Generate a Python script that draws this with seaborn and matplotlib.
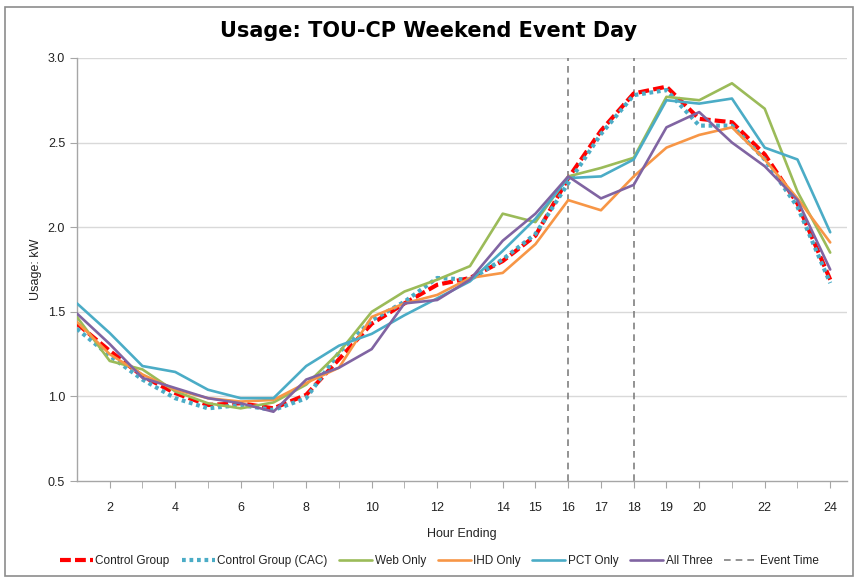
import numpy as np
import matplotlib
matplotlib.use("Agg")
import matplotlib.pyplot as plt
import seaborn as sns
from matplotlib.patches import Rectangle
from matplotlib.lines import Line2D

# hour ending 1..24
hours = list(range(1, 25))

control = [1.43, 1.27, 1.12, 1.02, 0.95, 0.96, 0.93, 1.01, 1.22, 1.43, 1.55, 1.66,
           1.70, 1.80, 1.95, 2.29, 2.57, 2.79, 2.83, 2.64, 2.62, 2.43, 2.14, 1.69]
control_cac = [1.40, 1.24, 1.10, 0.99, 0.93, 0.95, 0.92, 0.99, 1.26, 1.45, 1.56, 1.70,
               1.69, 1.81, 1.96, 2.26, 2.55, 2.78, 2.81, 2.60, 2.60, 2.40, 2.12, 1.67]
web_only = [1.47, 1.21, 1.16, 1.03, 0.96, 0.93, 0.965, 1.07, 1.26, 1.50, 1.62, 1.69,
            1.77, 2.08, 2.03, 2.30, 2.35, 2.41, 2.77, 2.75, 2.85, 2.70, 2.21, 1.85]
ihd_only = [1.44, 1.25, 1.13, 1.04, 0.99, 0.97, 0.98, 1.08, 1.17, 1.47, 1.55, 1.60,
            1.70, 1.73, 1.90, 2.16, 2.10, 2.30, 2.47, 2.545, 2.59, 2.40, 2.17, 1.91]
pct_only = [1.55, 1.375, 1.18, 1.145, 1.04, 0.99, 0.99, 1.18, 1.30, 1.37, 1.48, 1.58,
            1.68, 1.86, 2.05, 2.29, 2.30, 2.40, 2.75, 2.73, 2.76, 2.47, 2.40, 1.97]
all_three = [1.49, 1.31, 1.11, 1.05, 0.99, 0.96, 0.91, 1.10, 1.17, 1.28, 1.55, 1.57,
             1.69, 1.92, 2.08, 2.30, 2.17, 2.25, 2.59, 2.68, 2.50, 2.36, 2.16, 1.75]

event_hours = [16, 18]
xtick_labels = [2, 4, 6, 8, 10, 12, 14, 15, 16, 17, 18, 19, 20, 22, 24]
yticks = [0.5, 1.0, 1.5, 2.0, 2.5, 3.0]

sns.set_style("white")
plt.rcParams['font.family'] = ['Liberation Sans', 'DejaVu Sans']

fig = plt.figure(figsize=(8.58, 5.79), dpi=100)
ax = fig.add_axes([0.0897, 0.169, 0.897, 0.731])

# chart border like the excel chart area
fig.patches.append(Rectangle((0.006, 0.006), 0.988, 0.982, transform=fig.transFigure,
                             fill=False, edgecolor="#8c8c8c", lw=1.2))

for yv in yticks[1:]:
    ax.axhline(yv, color="#d9d9d9", lw=1.0, zorder=0)

for h in event_hours:
    ax.axvline(h, color="#808080", lw=1.2, ls=(0, (4, 3)), zorder=1)

series = [
    ("Control Group", control, "#ff0000", 3.0, (0, (2.6, 1.0))),
    ("Control Group (CAC)", control_cac, "#4bacc6", 3.0, (0, (0.9, 0.9))),
    ("Web Only", web_only, "#9bbb59", 1.9, "-"),
    ("IHD Only", ihd_only, "#f79646", 1.9, "-"),
    ("PCT Only", pct_only, "#4bacc6", 1.9, "-"),
    ("All Three", all_three, "#8064a2", 1.9, "-"),
]

handles = []
for name, vals, col, lw, ls in series:
    sns.lineplot(x=hours, y=vals, ax=ax, color=col, lw=lw, linestyle=ls, zorder=3)
    handles.append(Line2D([], [], color=col, lw=lw, linestyle=ls, label=name))
handles.append(Line2D([], [], color="#808080", lw=1.2, ls=(0, (4, 3)), label="Event Time"))

ax.set_xlim(1, 24.5)
ax.set_ylim(0.5, 3.0)
ax.set_yticks(yticks)
ax.set_yticklabels([f"{v:.1f}" for v in yticks], fontsize=9)
ax.set_xticks(range(2, 25), minor=True)
ax.set_xticks(xtick_labels)
ax.set_xticklabels([str(v) for v in xtick_labels], fontsize=9)
ax.tick_params(axis="x", which="both", length=5, color="#a6a6a6", direction="out", pad=10,
               bottom=True, labelcolor="#222222")
ax.tick_params(axis="y", length=5, color="#a6a6a6", direction="out", left=True, labelcolor="#222222")

for s in ["top", "right"]:
    ax.spines[s].set_visible(False)
for s in ["left", "bottom"]:
    ax.spines[s].set_color("#a6a6a6")
    ax.spines[s].set_linewidth(1.0)

ax.set_xlabel("Hour Ending", fontsize=9, labelpad=10, color="#222222")
ax.set_ylabel("Usage: kW", fontsize=9, labelpad=4, color="#222222")
fig.text(0.5, 0.947, "Usage: TOU-CP Weekend Event Day", ha="center", va="center",
         fontsize=15, fontweight="bold", family="DejaVu Sans", color="black")

fig.legend(handles=handles, loc="center", bbox_to_anchor=(0.512, 0.031), ncol=7,
           frameon=False, fontsize=8.5, handlelength=2.8, handletextpad=0.2,
           columnspacing=1.0, labelcolor="#222222")

fig.savefig("out.png", dpi=100)
